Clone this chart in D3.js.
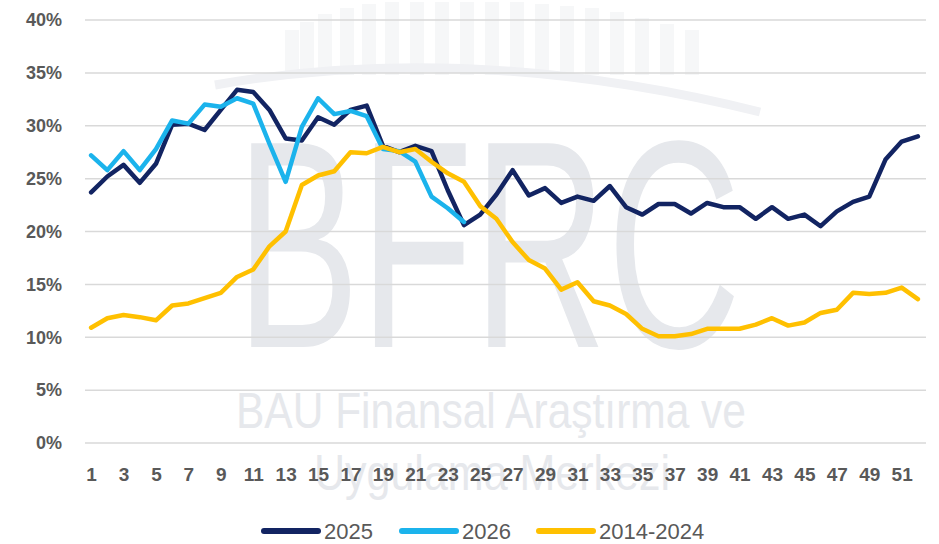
<!DOCTYPE html>
<html>
<head>
<meta charset="utf-8">
<script src="https://cdn.jsdelivr.net/npm/d3@7"></script>
<style>
  body { margin: 0; background: #fff; }
  svg { display: block; font-family: "Liberation Sans", Arial, sans-serif; }
</style>
</head>
<body>
<div id="chart"></div>
<script>
// week numbers on the x axis
var weeks = d3.range(1, 53)
var yTicks = [0, 5, 10, 15, 20, 25, 30, 35, 40]

// percentages
var s2025 = [23.7, 25.2, 26.3, 24.6, 26.4, 30.1, 30.2, 29.6, 31.5, 33.4,
    33.2, 31.5, 28.8, 28.6, 30.8, 30.1, 31.5, 31.9, 28.1, 27.5,
    28.1, 27.6, 23.9, 20.6, 21.6, 23.5, 25.8, 23.4, 24.1, 22.7,
    23.3, 22.9, 24.3, 22.3, 21.6, 22.6, 22.6, 21.7, 22.7, 22.3,
    22.3, 21.2, 22.3, 21.2, 21.6, 20.5, 21.9, 22.8, 23.3, 26.8,
    28.5, 29.0]
var s2026 = [27.2, 25.8, 27.6, 25.8, 27.8, 30.5, 30.2, 32.0, 31.8, 32.6,
    32.1, 28.3, 24.7, 29.9, 32.6, 31.1, 31.4, 30.9, 27.8, 27.6,
    26.6, 23.3, 22.2, 20.9]
var sAvg = [10.9, 11.8, 12.1, 11.9, 11.6, 13.0, 13.2, 13.7, 14.2, 15.7,
    16.4, 18.6, 20.0, 24.4, 25.3, 25.7, 27.5, 27.4, 28.0, 27.5,
    27.8, 26.6, 25.5, 24.7, 22.4, 21.2, 19.0, 17.3, 16.5, 14.5,
    15.2, 13.4, 13.0, 12.2, 10.8, 10.1, 10.1, 10.3, 10.8, 10.8,
    10.8, 11.2, 11.8, 11.1, 11.4, 12.3, 12.6, 14.2, 14.1, 14.2,
    14.7, 13.6]

var seriesNames = ["2025", "2026", "2014-2024"]
var seriesColors = ["#122462", "#1bb3ec", "#ffc000"]
var seriesData = [s2025, s2026, sAvg]

var width = 939, height = 544

var svg = d3.select("#chart").append("svg")
    .attr("width", width)
    .attr("height", height)

var x = d3.scaleLinear().domain([0.5, 52.5]).range([83, 926])
var y = d3.scaleLinear().domain([0, 40]).range([443, 20])

// --- faint watermark behind the chart
var wm = svg.append("g").attr("class", "watermark")
var bars = [[285, 30], [300, 22], [318, 14], [340, 8], [362, 4], [385, 2], [410, 2],
    [435, 2], [460, 2], [485, 2], [510, 2], [535, 4], [560, 6], [585, 8],
    [610, 12], [635, 18], [660, 24], [685, 30]]
bars.forEach(function(b) {
    wm.append("rect")
        .attr("x", b[0]).attr("y", b[1])
        .attr("width", 14).attr("height", 75 - b[1])
        .attr("fill", "#f6f7f8")
})
wm.append("path")
    .attr("d", "M215,85 Q470,40 760,112")
    .attr("fill", "none")
    .attr("stroke", "#f0f1f4")
    .attr("stroke-width", 9)
wm.append("text")
    .attr("x", 236).attr("y", 347)
    .attr("textLength", 505)
    .attr("lengthAdjust", "spacingAndGlyphs")
    .style("font-size", "296px")
    .style("fill", "#e6e8ec")
    .text("BFRC")
wm.append("text")
    .attr("x", 236).attr("y", 428)
    .attr("textLength", 510)
    .attr("lengthAdjust", "spacingAndGlyphs")
    .style("font-size", "50px")
    .style("fill", "#e6e8ec")
    .text("BAU Finansal Araştırma ve")
wm.append("text")
    .attr("x", 314).attr("y", 490)
    .attr("textLength", 356)
    .attr("lengthAdjust", "spacingAndGlyphs")
    .style("font-size", "50px")
    .style("fill", "#e6e8ec")
    .text("Uygulama Merkezi")

// --- gridlines
svg.append("g").selectAll("line")
    .data(yTicks)
    .enter().append("line")
    .attr("x1", 85).attr("x2", 926)
    .attr("y1", function(d) { return y(d) })
    .attr("y2", function(d) { return y(d) })
    .attr("stroke", "#d9d9d9")
    .attr("stroke-width", 1.5)

// --- y axis labels
var yAxis = d3.axisLeft(y).tickValues(yTicks).tickSize(0).tickPadding(0)
    .tickFormat(function(d) { return d + "%" })
svg.append("g")
    .attr("transform", "translate(62,0)")
    .call(yAxis)
    .call(function(g) { g.select(".domain").remove() })
    .selectAll("text")
    .attr("fill", "#595959")
    .style("font-size", "18px")
    .style("font-weight", "bold")
    .style("font-family", "'Liberation Sans', Arial, sans-serif")

// --- x axis labels (odd weeks only)
var xAxis = d3.axisBottom(x)
    .tickValues(weeks.filter(function(w) { return w % 2 == 1 }))
    .tickSize(0).tickPadding(0)
    .tickFormat(d3.format("d"))
svg.append("g")
    .attr("transform", "translate(0,467)")
    .call(xAxis)
    .call(function(g) { g.select(".domain").remove() })
    .selectAll("text")
    .attr("fill", "#595959")
    .style("font-size", "19px")
    .style("font-weight", "bold")
    .style("font-family", "'Liberation Sans', Arial, sans-serif")

// --- the three lines
var line = d3.line()
    .x(function(d, i) { return x(weeks[i]) })
    .y(function(d) { return y(d) })

seriesData.forEach(function(s, k) {
    svg.append("path")
        .datum(s)
        .attr("d", line)
        .attr("fill", "none")
        .attr("stroke", seriesColors[k])
        .attr("stroke-width", 4.5)
        .attr("stroke-linejoin", "round")
        .attr("stroke-linecap", "round")
})

// --- legend
var legendX = [262, 400, 537]
var legend = svg.append("g")
seriesNames.forEach(function(name, k) {
    legend.append("line")
        .attr("x1", legendX[k] + 2).attr("x2", legendX[k] + 56)
        .attr("y1", 531).attr("y2", 531)
        .attr("stroke", seriesColors[k])
        .attr("stroke-width", 6)
        .attr("stroke-linecap", "round")
    legend.append("text")
        .attr("x", legendX[k] + 62).attr("y", 539)
        .style("font-size", "22px")
        .style("fill", "#595959")
        .text(name)
})
</script>
</body>
</html>
